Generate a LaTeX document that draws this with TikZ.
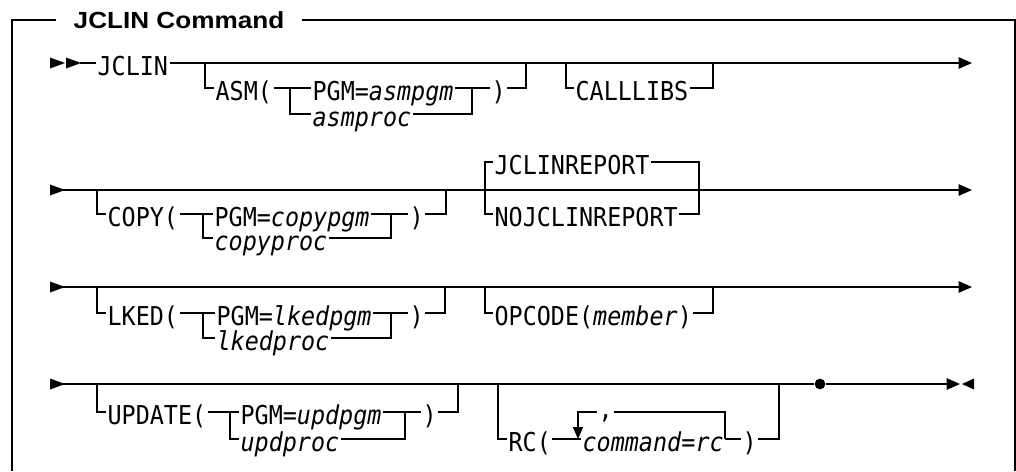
\documentclass[tikz,border=0pt]{standalone}
\usepackage{fontspec}
\usepackage{graphicx}
\usepackage{tikz}
\usetikzlibrary{arrows.meta}
\newfontfamily\railfont[FakeStretch=0.9]{DejaVu Sans Mono}
\newfontfamily\titlefont{Liberation Sans}
\tikzset{rail/.style={line width=1.15pt},frame/.style={line width=1.4pt},
  kw/.style={font=\railfont\fontsize{19.5}{22}\selectfont,anchor=west,inner xsep=1pt,inner ysep=0pt,text height=18pt,text depth=0pt},
  fin/.style={-{Triangle[length=10pt,width=8.5pt]}},
  stopdot/.style={circle,fill,inner sep=0pt,minimum size=8pt}}
\newcommand{\railin}[2]{\fill (#1,#2-5.5) -- (#1+15,#2) -- (#1,#2+5.5) -- cycle;}

\begin{document}
\begin{tikzpicture}[x=0.75pt,y=-0.75pt]
\useasboundingbox (0,0) rectangle (1016,471);

% ===== frame and title =====
\node[font=\titlefont\bfseries\fontsize{17.5}{20}\selectfont,inner xsep=13pt,inner ysep=0pt] (title) at (179,20) {\scalebox{1.12}[1]{JCLIN Command}};
\draw[frame] (12,471) |- (title.west);
\draw[frame] (title.east) -| (1015,471);

% ===== Row 1: JCLIN, ASM(...), CALLLIBS =====
\railin{50}{63} \railin{66}{63}
\coordinate (s1) at (80,63); \coordinate (e1) at (972,63);
\node[kw] (jclin) at (96,63) {JCLIN};
\draw[rail] (s1) -- (jclin.west);
\draw[rail,fin] (jclin.east) -- (e1);
\coordinate (asmin) at (205,63); \coordinate (asmsp) at (290,88);
\coordinate (asmjn) at (472,88); \coordinate (asmout) at (526,63);
\node[kw] (asm) at (214,88) {ASM(};
\node[kw] (asmpgm) at (311,88) {PGM=\textit{asmpgm}};
\node[kw] (asmproc) at (311,114) {\textit{asmproc}};
\node[kw] (asmcl) at (490,88) {)};
\draw[rail] (asmin) |- (asm.west);
\draw[rail] (asm.east) -- (asmpgm.west);
\draw[rail] (asmsp) |- (asmproc.west);
\draw[rail] (asmpgm.east) -- (asmcl.west);
\draw[rail] (asmproc.east) -| (asmjn);
\draw[rail] (asmcl.east) -| (asmout);
\coordinate (calin) at (566,63); \coordinate (calout) at (713,63);
\node[kw] (calllibs) at (574,88) {CALLLIBS};
\draw[rail] (calin) |- (calllibs.west);
\draw[rail] (calllibs.east) -| (calout);

% ===== Row 2: COPY(...), JCLINREPORT / NOJCLINREPORT =====
\railin{50}{190}
\coordinate (s2) at (62,190); \coordinate (e2) at (972,190);
\draw[rail,fin] (s2) -- (e2);
\coordinate (cpin) at (97,190); \coordinate (cpsp) at (203,214);
\coordinate (cpjn) at (391,214); \coordinate (cpout) at (446,190);
\node[kw] (cp) at (106,214) {COPY(};
\node[kw] (cppgm) at (213,214) {PGM=\textit{copypgm}};
\node[kw] (cpproc) at (213,238) {\textit{copyproc}};
\node[kw] (cpcl) at (408,214) {)};
\draw[rail] (cpin) |- (cp.west);
\draw[rail] (cp.east) -- (cppgm.west);
\draw[rail] (cpsp) |- (cpproc.west);
\draw[rail] (cppgm.east) -- (cpcl.west);
\draw[rail] (cpproc.east) -| (cpjn);
\draw[rail] (cpcl.east) -| (cpout);
\coordinate (rpin) at (485,190); \coordinate (rpout) at (699,190);
\node[kw] (jr) at (493,162) {JCLINREPORT};
\node[kw] (njr) at (493,214) {NOJCLINREPORT};
\draw[rail] (jr.west) -| (rpin) |- (njr.west);
\draw[rail] (jr.east) -| (rpout) |- (njr.east);

% ===== Row 3: LKED(...), OPCODE(member) =====
\railin{50}{287}
\coordinate (s3) at (62,287); \coordinate (e3) at (972,287);
\draw[rail,fin] (s3) -- (e3);
\coordinate (lkin) at (97,287); \coordinate (lksp) at (203,313);
\coordinate (lkjn) at (391,313); \coordinate (lkout) at (445,287);
\node[kw] (lk) at (106,313) {LKED(};
\node[kw] (lkpgm) at (215,313) {PGM=\textit{lkedpgm}};
\node[kw] (lkproc) at (215,338) {\textit{lkedproc}};
\node[kw] (lkcl) at (408,313) {)};
\draw[rail] (lkin) |- (lk.west);
\draw[rail] (lk.east) -- (lkpgm.west);
\draw[rail] (lksp) |- (lkproc.west);
\draw[rail] (lkpgm.east) -- (lkcl.west);
\draw[rail] (lkproc.east) -| (lkjn);
\draw[rail] (lkcl.east) -| (lkout);
\coordinate (opin) at (485,287); \coordinate (opout) at (713,287);
\node[kw] (op) at (493,313) {OPCODE(\textit{member})};
\draw[rail] (opin) |- (op.west);
\draw[rail] (op.east) -| (opout);

% ===== Row 4: UPDATE(...), RC(...), end =====
\railin{50}{384}
\coordinate (s4) at (62,384); \coordinate (e4) at (960,384);
\node[stopdot] (stop) at (820,384) {};
\draw[rail] (s4) -- (stop);
\draw[rail,fin] (stop) -- (e4);
\fill (962,384) -- (974,378.5) -- (974,389.5) -- cycle;
\coordinate (upin) at (97,384); \coordinate (upsp) at (230,412);
\coordinate (upjn) at (405,412); \coordinate (upout) at (458,384);
\node[kw] (up) at (106,412) {UPDATE(};
\node[kw] (uppgm) at (239,412) {PGM=\textit{updpgm}};
\node[kw] (upproc) at (239,439) {\textit{updproc}};
\node[kw] (upcl) at (421,412) {)};
\draw[rail] (upin) |- (up.west);
\draw[rail] (up.east) -- (uppgm.west);
\draw[rail] (upsp) |- (upproc.west);
\draw[rail] (uppgm.east) -- (upcl.west);
\draw[rail] (upproc.east) -| (upjn);
\draw[rail] (upcl.east) -| (upout);
\coordinate (rcin) at (498,384); \coordinate (rcout) at (779,384);
\coordinate (rclp) at (578,439); \coordinate (rcjn) at (725,439);
\node[kw] (rc) at (507,439) {RC(};
\node[kw] (cmd) at (581,439) {\textit{command}=\textit{rc}};
\node[kw] (rccl) at (741,439) {)};
\node[kw,text height=10pt] (comma) at (597,412) {,};
\draw[rail] (rcin) |- (rc.west);
\draw[rail] (rc.east) -- (cmd.west);
\draw[rail] (cmd.east) -- (rccl.west);
\draw[rail] (rccl.east) -| (rcout);
\draw[rail] (comma.east) -| (rcjn);
\draw[rail,-{Triangle[length=9pt,width=7.5pt]}] (comma.west) -| (rclp);

\end{tikzpicture}
\end{document}
